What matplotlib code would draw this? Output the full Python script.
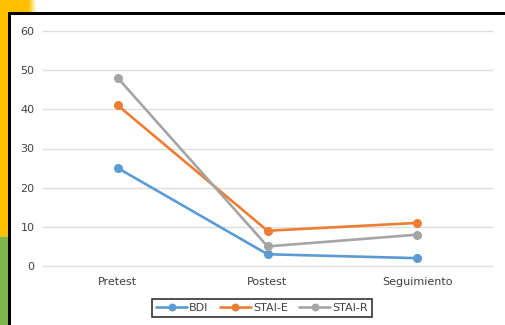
import matplotlib
matplotlib.use("Agg")
import matplotlib.pyplot as plt
from matplotlib.patches import Rectangle
import numpy as np

categories = ["Pretest", "Postest", "Seguimiento"]
bdi = [25, 3, 2]
stai_e = [41, 9, 11]
stai_r = [48, 5, 8]
yticks = [0, 10, 20, 30, 40, 50, 60]

W, H = 505, 325
fig = plt.figure(figsize=(W / 100, H / 100), dpi=100)
fig.patch.set_facecolor("white")

def px(x, y, w, h, **kw):
    fig.patches.append(Rectangle((x / W, 1 - (y + h) / H), w / W, h / H,
                                 transform=fig.transFigure, **kw))

# decorative background pieces
px(0, 0, 8, 237, facecolor="#FFC000", edgecolor="none", zorder=0)
px(0, 237, 8, 88, facecolor="#7CB54E", edgecolor="none", zorder=0)
px(0, 0, 28, 12, facecolor="#FFC000", edgecolor="none", zorder=0)
for i in range(8):
    a = 1 - i / 8
    px(28 + i, 0, 1, 12, facecolor="#FFC000", alpha=a, edgecolor="none", zorder=0)
# black frame lines
px(8, 12, 497, 2.5, facecolor="black", edgecolor="none", zorder=1)
px(8, 12, 2.5, 313, facecolor="black", edgecolor="none", zorder=1)

ax = fig.add_axes([43 / W, 1 - 266 / H, (492 - 43) / W, (266 - 31) / H])
ax.set_facecolor("none")
x = np.arange(len(categories))
series = [("BDI", bdi, "#5B9BD5"), ("STAI-E", stai_e, "#ED7D31"), ("STAI-R", stai_r, "#A5A5A5")]
handles = []
for name, vals, c in series:
    h, = ax.plot(x, vals, color=c, lw=1.9, marker="o", ms=5.5, label=name,
                 solid_capstyle="round", zorder=3)
    handles.append(h)

ax.set_xlim(-0.5, len(categories) - 0.5)
ax.set_ylim(0, 60)
ax.set_yticks(yticks)
ax.set_xticks(x)
ax.set_xticklabels(categories)
for yv in yticks:
    ax.axhline(yv, color="#DEDEDE", lw=1, zorder=1, clip_on=False)
for s in ax.spines.values():
    s.set_visible(False)
ax.tick_params(length=0, labelsize=8, colors="#404040", pad=6)
ax.tick_params(axis="x", pad=8)

leg = fig.legend(handles=handles, loc="center", bbox_to_anchor=(262 / W, 1 - 308 / H),
                 ncol=3, frameon=True, fontsize=8, handlelength=2.8, columnspacing=1.0,
                 handletextpad=0.2, borderpad=0.35, fancybox=False, markerscale=0.85)
leg.get_frame().set_edgecolor("black")
leg.get_frame().set_linewidth(1.2)
for t in leg.get_texts():
    t.set_color("#404040")

fig.savefig("out.png", dpi=100)
